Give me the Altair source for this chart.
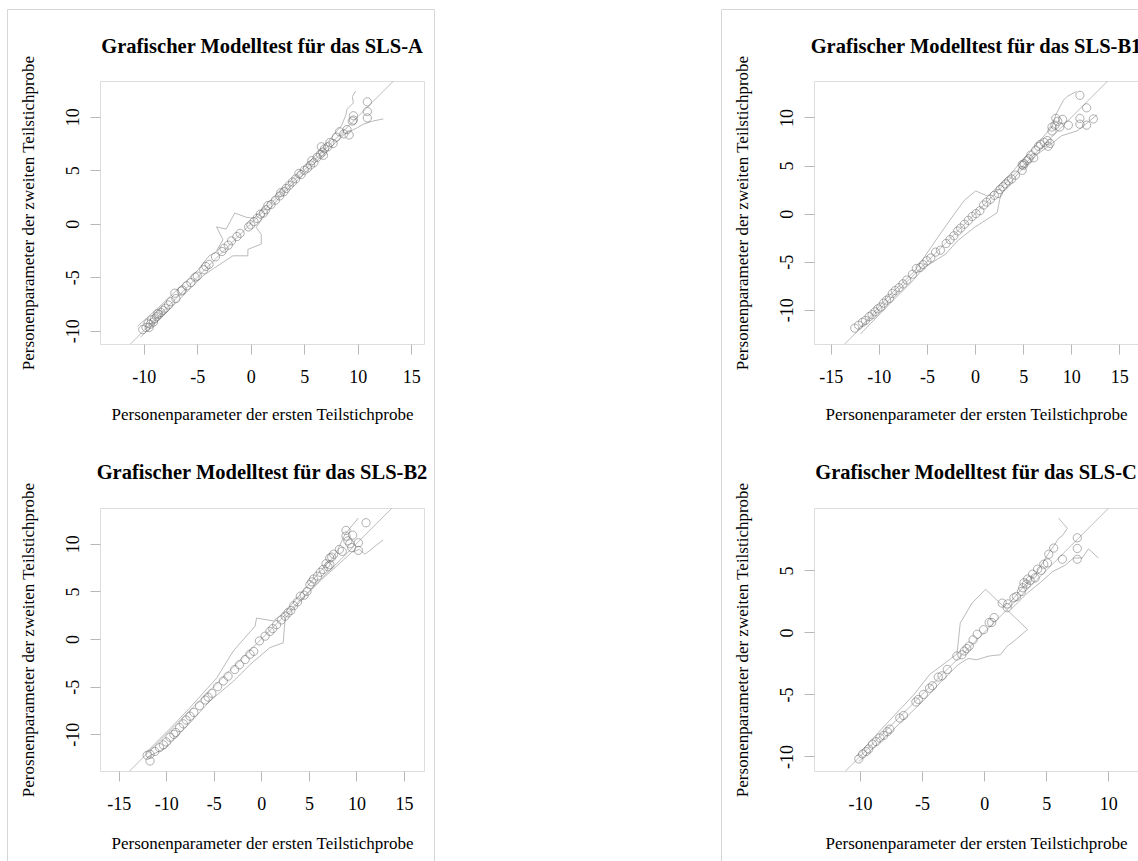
import altair as alt
import pandas as pd

FONT = "Liberation Serif"

# ---------------- data ----------------
# Panel SLS-A
A_x = [10.9, 10.9, 10.9, 9.6, 9.6, 9.5, 9.2, 9.0, 8.7, 8.3, 8.0, 7.7, 7.4, 7.2, 6.9, 6.7, 6.6, 6.8,
       6.5, 6.2, 5.9, 5.6, 5.7, 5.3, 5.0, 4.7, 4.5, 4.2, 3.9, 3.6, 3.3, 3.1, 2.8, 2.7, 2.3, 1.9,
       1.6, 1.4, 1.2, 0.9, 0.6, 0.3, 0.0, -0.2, -1.0, -1.3, -1.8, -2.1, -2.5, -2.7, -3.3, -3.9,
       -4.2, -4.4, -5.0, -5.2, -5.6, -6.0, -6.4, -6.5, -7.1, -7.0, -7.5, -7.7, -8.0, -8.2, -8.4,
       -8.6, -8.7, -8.8, -9.0, -9.1, -9.3, -9.4, -9.6, -9.8, -10.1, -9.5]
A_y = [11.4, 10.5, 9.9, 10.1, 9.7, 9.6, 8.3, 8.8, 8.4, 8.6, 8.1, 7.5, 7.6, 7.2, 7.0, 6.7, 7.2, 6.4,
       6.5, 6.2, 5.7, 5.5, 5.9, 5.2, 5.0, 4.6, 4.7, 4.2, 3.9, 3.6, 3.3, 3.0, 2.9, 2.6, 2.2, 1.8,
       1.7, 1.3, 1.0, 0.9, 0.5, 0.2, -0.1, -0.3, -0.9, -1.2, -1.6, -2.0, -2.3, -2.6, -3.1, -3.8,
       -4.0, -4.3, -4.9, -5.0, -5.5, -5.8, -6.2, -6.3, -6.5, -7.0, -7.3, -7.6, -7.9, -8.1, -8.3,
       -8.5, -8.4, -8.7, -8.9, -9.2, -9.0, -9.4, -9.3, -9.7, -9.9, -9.7]
A_up_x = [-10.6, -8.8, -6.7, -5.0, -3.9, -3.3, -2.6, -3.2, -2.3, -1.5, -0.4, 0.3, 1.0, 3.0, 5.0, 7.0, 8.5, 8.9, 9.0, 9.6, 9.5, 9.8]
A_up_y = [-9.6, -8.0, -6.0, -4.4, -3.0, -2.7, -1.5, -0.3, -0.5, 1.0, 0.6, 0.5, 1.3, 3.3, 5.3, 7.4, 9.2, 10.2, 10.7, 11.3, 11.9, 12.4]
A_lo_x = [-10.3, -8.0, -6.0, -4.5, -3.5, -1.67, -0.27, -0.27, 0.98, 0.98, 0.5, 1.5, 3.0, 5.0, 7.0, 8.8, 10.0, 10.5, 11.4, 12.4]
A_lo_y = [-10.6, -8.4, -6.4, -4.9, -4.2, -3.0, -3.0, -2.4, -1.9, -1.0, -0.35, 1.1, 2.8, 4.7, 6.7, 8.4, 9.0, 9.3, 9.6, 9.8]

# Panel SLS-B1
B1_x = [10.9, 11.6, 12.3, 11.6, 10.9, 10.9, 9.7, 9.1, 8.8, 8.6, 8.4, 8.3, 8.0, 8.0, 7.8, 7.6, 7.5, 7.2,
        6.8, 6.6, 6.3, 6.1, 5.8, 5.6, 5.4, 5.1, 5.0, 4.9, 4.9, 4.2, 3.8, 3.5, 3.2, 2.9, 2.6, 2.4,
        2.0, 1.6, 1.2, 0.9, 0.5, 0.1, -0.3, -0.7, -1.1, -1.5, -1.8, -2.2, -2.6, -3.0, -3.6, -4.1,
        -4.6, -5.0, -5.4, -5.7, -6.1, -6.5, -7.1, -7.5, -7.9, -8.3, -8.6, -8.9, -9.2, -9.5, -9.8,
        -10.1, -10.4, -10.7, -11.0, -11.4, -11.7, -12.1, -12.5]
B1_y = [12.3, 11.0, 9.85, 9.2, 9.9, 9.3, 9.2, 9.8, 9.0, 9.6, 9.9, 9.2, 8.6, 9.0, 7.3, 7.0, 7.6, 7.4,
        7.2, 7.0, 6.6, 5.8, 6.1, 5.7, 5.5, 5.2, 5.0, 5.1, 4.5, 4.0, 3.6, 3.4, 3.1, 2.8, 2.5, 2.1,
        1.9, 1.5, 1.2, 0.9, 0.3, 0.0, -0.3, -0.7, -1.1, -1.5, -1.8, -2.3, -2.7, -3.1, -3.8, -4.0,
        -4.6, -4.9, -5.3, -5.6, -5.7, -6.3, -6.9, -7.3, -7.7, -8.0, -8.3, -8.8, -9.0, -9.3, -9.7,
        -9.9, -10.2, -10.5, -10.7, -11.1, -11.3, -11.6, -11.9]
B1_up_x = [-12.1, -9.0, -6.3, -4.5, -3.9, -2.2, -1.1, 0.07, 1.28, 1.5, 3.0, 5.0, 7.0, 8.0, 8.4, 9.2, 9.6, 10.55]
B1_up_y = [-12.0, -8.6, -6.0, -3.4, -2.5, -0.1, 1.4, 2.36, 1.84, 2.0, 3.4, 5.6, 7.9, 9.0, 10.3, 11.8, 12.2, 12.7]
B1_lo_x = [-11.9, -9.0, -6.5, -5.3, -3.05, -1.84, -0.1, 2.3, 2.67, 4.5, 6.5, 7.5, 9.0, 10.6, 11.5, 12.7]
B1_lo_y = [-12.5, -9.5, -7.0, -5.6, -4.2, -2.84, -1.46, 0.1, 2.0, 4.2, 6.2, 6.9, 8.1, 8.6, 9.3, 10.3]

# Panel SLS-B2
B2_x = [11.0, 8.9, 8.9, 9.1, 10.2, 10.2, 9.5, 9.6, 9.3, 8.5, 8.2, 7.6, 7.4, 7.2, 7.2, 7.0, 6.8, 6.5,
        6.2, 5.9, 5.5, 5.3, 5.1, 4.8, 4.5, 4.1, 3.8, 3.4, 3.1, 2.8, 2.5, 2.1, 1.6, 1.2, 0.9, 0.4,
        -0.2, -0.8, -1.2, -1.7, -2.3, -2.8, -3.5, -4.0, -4.6, -5.2, -5.6, -5.9, -6.5, -7.1, -7.5,
        -7.9, -8.2, -8.6, -9.0, -9.2, -9.6, -10.0, -10.3, -10.7, -11.2, -11.7, -11.7, -12.0]
B2_y = [12.2, 11.4, 10.8, 10.3, 10.1, 9.3, 9.6, 10.9, 10.0, 9.2, 9.4, 8.9, 8.6, 8.5, 7.8, 7.6, 7.9, 7.3,
        7.0, 6.6, 6.3, 6.0, 5.7, 5.0, 4.6, 4.5, 3.9, 3.5, 3.0, 2.75, 2.4, 2.0, 1.5, 1.1, 0.8, 0.3,
        -0.2, -1.3, -1.6, -2.15, -2.7, -3.2, -3.9, -4.4, -5.0, -5.7, -6.1, -6.4, -7.0, -7.7, -8.1,
        -8.5, -8.9, -9.3, -9.8, -10.0, -10.3, -10.8, -11.1, -11.4, -11.8, -12.1, -12.8, -12.2]
B2_up_x = [-12.2, -9.5, -7.5, -4.7, -2.95, -0.66, -0.5, 1.26, 2.5, 4.1, 6.0, 7.5, 8.0, 8.8, 10.2]
B2_up_y = [-12.0, -9.3, -7.2, -4.1, -1.26, 1.35, 2.2, 1.9, 2.8, 4.7, 6.9, 8.5, 9.3, 11.0, 12.7]
B2_lo_x = [-12.0, -10.0, -7.5, -5.4, -2.9, -1.2, 0.9, 2.3, 2.5, 4.8, 6.5, 8.3, 9.5, 10.3, 10.9, 12.8]
B2_lo_y = [-12.4, -11.4, -8.8, -6.5, -4.4, -2.7, -0.9, -0.4, 2.2, 4.7, 6.4, 8.0, 9.1, 9.4, 8.9, 10.4]

# Panel SLS-C
C_x = [7.5, 7.5, 7.5, 6.3, 5.6, 5.2, 5.1, 4.8, 4.6, 4.3, 4.1, 3.9, 3.7, 3.5, 3.4, 3.2, 3.1, 3.0, 2.6,
       2.4, 1.9, 1.85, 1.45, 0.8, 0.6, 0.4, -0.05, -0.56, -0.9, -1.2, -1.4, -1.6, -1.8, -2.2, -2.97,
       -3.4, -3.7, -4.17, -4.4, -4.9, -5.3, -5.5, -6.5, -6.8, -7.6, -7.8, -8.1, -8.4, -8.7, -9.0,
       -9.3, -9.5, -9.8, -10.1]
C_y = [7.63, 6.77, 5.9, 5.9, 6.8, 6.3, 5.6, 5.5, 5.0, 5.1, 4.4, 4.7, 4.2, 4.3, 3.9, 4.0, 3.6, 3.3, 2.9,
       2.8, 2.3, 2.0, 2.36, 1.2, 0.8, 0.8, 0.22, -0.15, -0.6, -1.1, -1.3, -1.5, -1.8, -1.9, -2.98,
       -3.5, -3.6, -4.3, -4.5, -5.0, -5.4, -5.6, -6.7, -6.9, -7.8, -8.0, -8.3, -8.5, -8.8, -9.0,
       -9.4, -9.6, -9.8, -10.2]
C_a_x = [-10.3, -8.0, -5.65, -4.4, -2.2, -2.07, -1.93, -0.99, 0.12, 3.49]
C_a_y = [-10.0, -7.5, -5.0, -3.4, -1.75, -0.6, 0.75, 2.36, 3.47, 0.24]
C_b_x = [-10.1, -7.5, -5.0, -3.5, -2.1, -1.3, -0.6, 0.4, 1.3, 1.86, 2.4, 3.49]
C_b_y = [-10.4, -8.0, -5.6, -4.0, -2.6, -2.1, -2.2, -1.9, -1.8, -1.1, -0.7, 0.24]
C_c_x = [1.9, 3.0, 4.2, 5.2, 5.7, 6.0, 6.3, 6.7, 6.0]
C_c_y = [2.2, 3.5, 4.8, 6.4, 7.1, 7.6, 7.8, 8.4, 9.2]
C_d_x = [2.2, 3.5, 4.5, 5.5, 6.5, 7.2, 7.9, 8.4, 9.2]
C_d_y = [1.9, 3.2, 4.0, 4.9, 5.4, 6.0, 6.0, 6.74, 6.0]

DIAG = [-30, 30]

XT = "Personenparameter der ersten Teilstichprobe"
YT = "Personenparameter der zweiten Teilstichprobe"
YT_B2 = "Perosnenparameter der zweiten Teilstichprobe"

W, H = 324, 263
LABEL_EXPR = "datum.value < 0 ? '-' + (-datum.value) : '' + datum.value"


def panel(title, px, py, segs, xdom, ydom, xticks, yticks, ytitle, title_y, xtitle_y, border=None):
    pts = pd.DataFrame({"x": px, "y": py})
    rows = []
    for k, (sx, sy) in enumerate(segs):
        for i, (a, b) in enumerate(zip(sx, sy)):
            rows.append({"x": a, "y": b, "seg": k, "i": i})
    band = pd.DataFrame(rows)
    diag = pd.DataFrame({"x": DIAG, "y": DIAG})

    xs = alt.Scale(domain=xdom, nice=False, zero=False)
    ys = alt.Scale(domain=ydom, nice=False, zero=False)
    xax = alt.Axis(values=xticks, tickSize=10, tickColor="#b8b8b8", domain=False, grid=False,
                   labelFont=FONT, labelFontSize=18, labelColor="black", labelPadding=14,
                   labelFlush=False, labelOverlap=False, labelExpr=LABEL_EXPR,
                   title=XT, titleFont=FONT, titleFontSize=17, titleFontWeight="normal",
                   titleColor="black", titleX=W / 2, titleY=xtitle_y, titleAlign="center",
                   titleBaseline="alphabetic")
    yax = alt.Axis(values=yticks, tickSize=10, tickColor="#b8b8b8", domain=False, grid=False,
                   labelFont=FONT, labelFontSize=18, labelColor="black", labelPadding=12,
                   labelAngle=270, labelAlign="center", labelBaseline="alphabetic",
                   labelFlush=False, labelOverlap=False, labelExpr=LABEL_EXPR,
                   title=ytitle, titleFont=FONT, titleFontSize=17, titleFontWeight="normal",
                   titleColor="black", titleAngle=270, titleX=-66.5, titleY=H / 2,
                   titleAlign="center", titleBaseline="alphabetic")

    base_band = alt.Chart(band).mark_line(color="#a8a8a8", strokeWidth=0.8, clip=True).encode(
        x=alt.X("x:Q", scale=xs, axis=xax),
        y=alt.Y("y:Q", scale=ys, axis=yax),
        detail="seg:N",
        order="i:Q",
    )
    dline = alt.Chart(diag).mark_line(color="#bdbdbd", strokeWidth=1, clip=True).encode(
        x="x:Q", y="y:Q")
    points = alt.Chart(pts).mark_point(shape="circle", filled=False, size=68, color="#666666",
                                       strokeWidth=0.8, opacity=0.65, clip=True).encode(
        x="x:Q", y="y:Q")
    ttl = alt.Chart(pd.DataFrame({"t": [title]})).mark_text(
        font=FONT, fontSize=20.5, fontWeight="bold", color="black", align="center",
        baseline="alphabetic").encode(x=alt.value(W / 2), y=alt.value(title_y), text="t:N")
    layers = [base_band, dline, points, ttl]
    if border is not None:
        bdf = pd.DataFrame({"b": [0]})
        for (x1, y1, x2, y2) in border:
            if x1 == x2:
                enc = dict(x=alt.value(x1), y=alt.value(y1), y2=alt.value(y2))
            else:
                enc = dict(y=alt.value(y1), x=alt.value(x1), x2=alt.value(x2))
            layers.append(alt.Chart(bdf).mark_rule(color="#d6d6d6", strokeWidth=1).encode(**enc))
    return alt.layer(*layers).properties(width=W, height=H)


pA = panel("Grafischer Modelltest für das SLS-A", A_x, A_y,
           [(A_up_x, A_up_y), (A_lo_x, A_lo_y)],
           [-14.1, 16.2], [-11.25, 13.35], [-10, -5, 0, 5, 10, 15], [-10, -5, 0, 5, 10],
           YT, -28, 75,
           border=[(-92.5, -71.5, -92.5, 800), (-92.5, -71.5, 334.5, -71.5), (334.5, -71.5, 334.5, 800)])
pB1 = panel("Grafischer Modelltest für das SLS-B1", B1_x, B1_y,
            [(B1_up_x, B1_up_y), (B1_lo_x, B1_lo_y)],
            [-16.74, 16.94], [-13.55, 13.79], [-15, -10, -5, 0, 5, 10, 15], [-10, -5, 0, 5, 10],
            YT, -28, 75,
            border=[(-92.5, -71.5, -92.5, 800), (-92.5, -71.5, 420, -71.5)])
pB2 = panel("Grafischer Modelltest für das SLS-B2", B2_x, B2_y,
            [(B2_up_x, B2_up_y), (B2_lo_x, B2_lo_y)],
            [-16.96, 17.1], [-13.85, 13.75], [-15, -10, -5, 0, 5, 10, 15], [-10, -5, 0, 5, 10],
            YT_B2, -29, 77)
pC = panel("Grafischer Modelltest für das SLS-C", C_x, C_y,
           [(C_a_x, C_a_y), (C_b_x, C_b_y), (C_c_x, C_c_y), (C_d_x, C_d_y)],
           [-13.71, 12.39], [-11.17, 10.03], [-10, -5, 0, 5, 10], [-10, -5, 0, 5],
           YT, -29, 77)

chart = alt.concat(pA, pB1, pB2, pC, columns=2, bounds="flush",
                   spacing=alt.RowColnumber(row=164, column=390)).properties(
    autosize=alt.AutoSizeParams(type="none"),
    padding={"left": 100, "top": 81, "right": 1038, "bottom": 780},
).configure_view(stroke="#bdbdbd", strokeWidth=1).configure(background="white")

chart.save("out.html", embed_options={"renderer": "svg", "actions": False})
